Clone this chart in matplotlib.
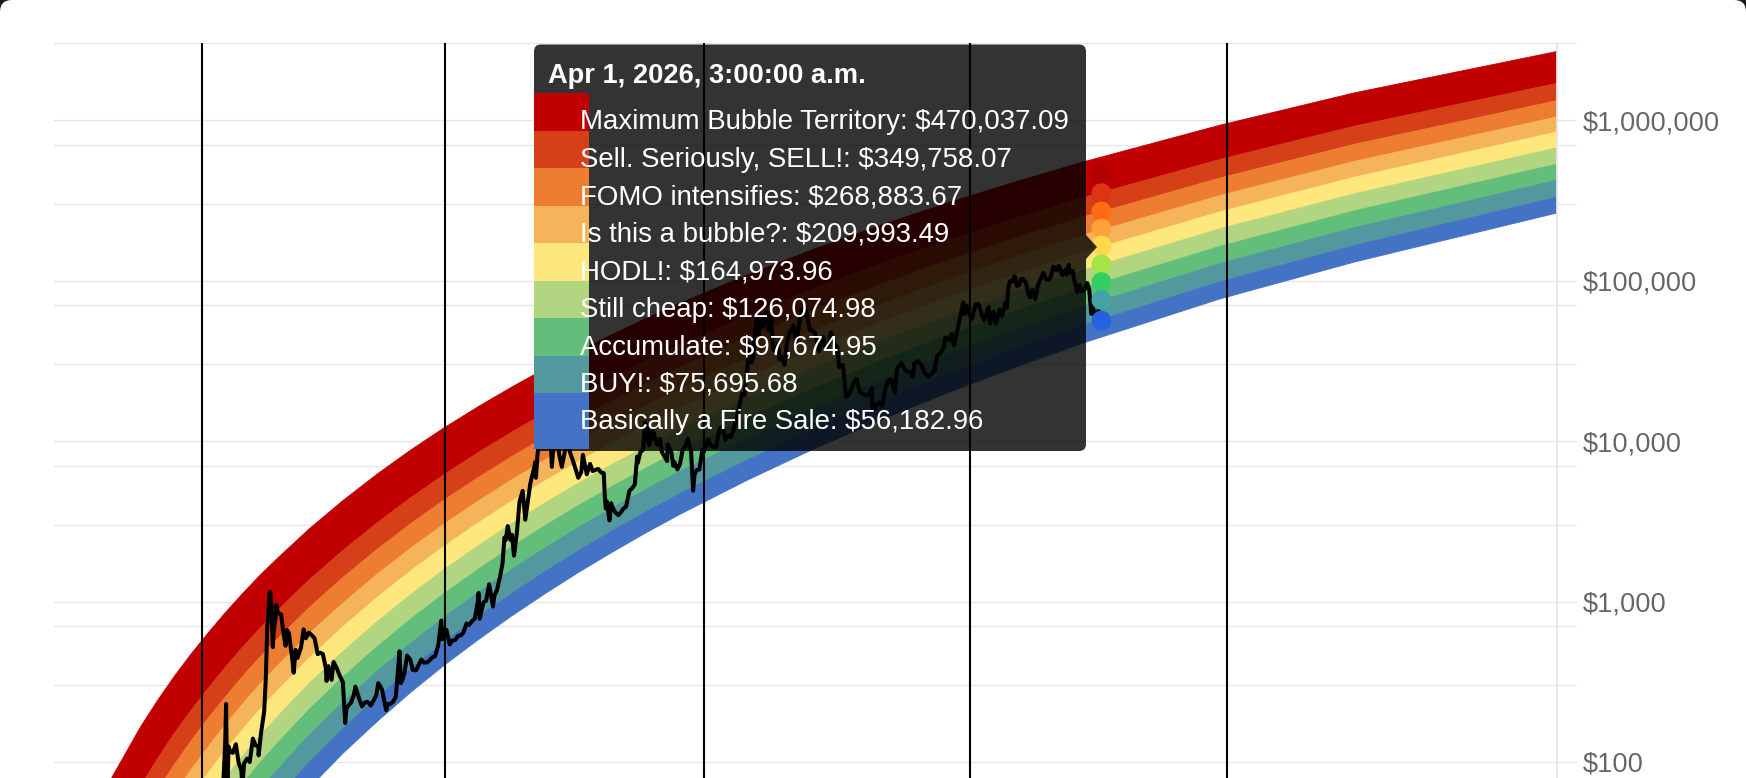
import matplotlib
matplotlib.use("Agg")
import matplotlib.pyplot as plt
import matplotlib.ticker as ticker
from matplotlib.patches import FancyBboxPatch, Rectangle, Polygon
from matplotlib.transforms import IdentityTransform
import pandas as pd

plt.rcParams["font.family"] = ["Liberation Sans", "DejaVu Sans"]

# ---- rainbow bands at sample dates (USD) ----
band_dates = ["2010-09-01", "2011-01-01", "2011-07-02", "2012-01-01", "2012-04-01",
              "2012-07-01", "2012-10-01", "2013-01-01", "2013-04-02", "2013-07-02",
              "2013-10-01", "2014-01-01", "2014-07-02", "2015-01-01", "2015-07-02",
              "2016-01-01", "2016-07-01", "2017-01-01", "2017-07-02", "2018-01-01",
              "2018-07-02", "2019-01-01", "2019-07-02", "2020-01-01", "2021-01-01",
              "2022-01-01", "2023-01-01", "2024-01-01", "2025-01-01", "2026-01-01",
              "2028-01-01", "2030-01-01", "2033-01-01"]

max_bubble_top = [13.1, 24.5, 70.1, 165, 240, 340, 470, 636, 845, 1104,
                  1424, 1808, 2827, 4246, 6173, 8740, 12050, 16310, 21620, 28260,
                  36390, 46220, 58090, 72230, 108300, 157600, 222600, 307000, 415100, 551300,
                  926800, 1477000, 2673000]
sell_top = [5.02, 9.68, 28.9, 70.4, 104, 150, 210, 287, 386, 511,
            665, 854, 1360, 2078, 3066, 4405, 6159, 8440, 11320, 14960,
            19470, 24980, 31690, 39770, 60680, 89660, 128500, 179700, 246000, 330500,
            567300, 915800, 1692000]
fomo_top = [2.99, 5.84, 17.8, 44.4, 66.2, 95.8, 135, 187, 252, 336,
            440, 568, 914, 1409, 2097, 3036, 4277, 5900, 7969, 10590,
            13870, 17880, 22820, 28750, 44290, 65960, 95330, 134300, 185100, 250300,
            434500, 706300, 1321000]
bubble_top = [1.83, 3.62, 11.3, 28.7, 43.2, 62.9, 89.4, 124, 169, 226,
              298, 386, 628, 976, 1466, 2136, 3030, 4207, 5718, 7643,
              10060, 13050, 16720, 21180, 32900, 49410, 71910, 102000, 141600, 192600,
              337900, 552600, 1045000]
hodl_top = [1.16, 2.33, 7.43, 19.2, 29.0, 42.6, 60.9, 85.2, 117, 157,
            208, 270, 443, 695, 1052, 1543, 2204, 3077, 4206, 5653,
            7478, 9741, 12550, 15950, 24990, 37810, 55410, 79120, 110400, 151100,
            267600, 440500, 842000]
cheap_top = [0.721, 1.47, 4.78, 12.5, 19.2, 28.3, 40.8, 57.4, 79.0, 107,
             142, 186, 308, 487, 742, 1098, 1578, 2217, 3049, 4120,
             5479, 7173, 9281, 11860, 18730, 28550, 42150, 60600, 85080, 117100,
             209700, 347200, 671000]
accumulate_top = [0.442, 0.910, 3.03, 8.11, 12.5, 18.6, 27.0, 38.2, 52.9, 71.9,
                  96.3, 127, 212, 338, 519, 773, 1118, 1581, 2189, 2973,
                  3976, 5231, 6803, 8734, 13920, 21390, 31800, 46050, 65060, 90110,
                  163000, 271800, 531000]
buy_top = [0.273, 0.570, 1.94, 5.29, 8.21, 12.3, 18.0, 25.6, 35.7, 48.8,
           65.7, 86.8, 147, 236, 365, 547, 798, 1136, 1581, 2160,
           2904, 3841, 5018, 6471, 10400, 16110, 24130, 35180, 50000, 69710,
           127400, 213700, 422000]
fire_sale_top = [0.164, 0.346, 1.21, 3.35, 5.25, 7.93, 11.7, 16.7, 23.5, 32.3,
                 43.7, 58.1, 99.0, 161, 251, 379, 557, 798, 1118, 1537,
                 2077, 2763, 3628, 4701, 7622, 11910, 17970, 26410, 37780, 53010,
                 97920, 165400, 330500]
fire_sale_bottom = [0.102, 0.218, 0.778, 2.19, 3.46, 5.27, 7.81, 11.3, 15.9, 22.0,
                    29.9, 40.0, 68.8, 113, 177, 270, 399, 575, 810, 1120,
                    1522, 2034, 2684, 3494, 5713, 8994, 13680, 20220, 29120, 41100,
                    76680, 130400, 263400]

band_labels = ["Maximum Bubble Territory", "Sell. Seriously, SELL!", "FOMO intensifies",
               "Is this a bubble?", "HODL!", "Still cheap", "Accumulate", "BUY!",
               "Basically a Fire Sale"]
band_colors = ["#c00000", "#d64018", "#ed7d31", "#f6b45a", "#fee77c",
               "#b1d580", "#63be7b", "#54989f", "#4472c4"]
dot_colors = ["#b30000", "#dc3510", "#ff6a12", "#ffa23c", "#ffd84c",
              "#a6e24a", "#34cf62", "#45a3a8", "#2563de"]

# ---- tooltip at the hover date ----
hover_date = "2026-04-01"
hover_title = "Apr 1, 2026, 3:00:00 a.m."
hover_values = [470037.09, 349758.07, 268883.67, 209993.49, 164973.96,
                126074.98, 97674.95, 75695.68, 56182.96]

halving_dates = ["2012-11-28", "2016-07-09", "2020-05-11", "2024-04-20", "2028-02-10"]

y_major = [100, 1_000, 10_000, 100_000, 1_000_000]
y_minor = [300, 700, 3_000, 7_000, 30_000, 70_000, 300_000, 700_000, 3_000_000]

# ---- BTC price (USD) ----
btc_price = [
    ("2012-12-01", 12.5), ("2013-01-01", 13.5), ("2013-01-15", 14.2), ("2013-02-01", 20.4),
    ("2013-02-15", 27), ("2013-03-01", 34.5), ("2013-03-15", 47), ("2013-03-28", 88),
    ("2013-04-04", 132), ("2013-04-09", 230), ("2013-04-12", 120), ("2013-04-16", 68),
    ("2013-04-22", 125), ("2013-05-01", 116), ("2013-05-15", 114), ("2013-06-01", 129),
    ("2013-06-15", 100), ("2013-07-01", 88), ("2013-07-06", 68), ("2013-07-15", 98),
    ("2013-08-01", 105), ("2013-08-15", 100), ("2013-09-01", 140), ("2013-09-15", 127),
    ("2013-10-01", 125), ("2013-10-02", 110), ("2013-10-15", 151), ("2013-11-01", 206),
    ("2013-11-10", 330), ("2013-11-18", 700), ("2013-11-22", 770), ("2013-11-30", 1130),
    ("2013-12-04", 1150), ("2013-12-10", 990), ("2013-12-18", 520), ("2013-12-23", 660),
    ("2014-01-01", 770), ("2014-01-06", 950), ("2014-01-15", 850), ("2014-02-01", 830),
    ("2014-02-10", 680), ("2014-02-25", 530), ("2014-03-05", 665), ("2014-03-15", 635),
    ("2014-04-01", 450), ("2014-04-10", 360), ("2014-04-20", 500), ("2014-05-01", 445),
    ("2014-05-20", 520), ("2014-06-03", 670), ("2014-06-15", 590), ("2014-07-01", 640),
    ("2014-07-15", 620), ("2014-08-01", 590), ("2014-08-18", 470), ("2014-09-01", 480),
    ("2014-09-15", 470), ("2014-10-01", 385), ("2014-10-05", 320), ("2014-10-15", 395),
    ("2014-11-01", 325), ("2014-11-12", 420), ("2014-12-01", 380), ("2014-12-15", 345),
    ("2015-01-01", 315), ("2015-01-14", 175), ("2015-01-20", 215), ("2015-02-01", 225),
    ("2015-02-15", 235), ("2015-03-01", 260), ("2015-03-10", 295), ("2015-04-01", 245),
    ("2015-04-15", 222), ("2015-05-01", 235), ("2015-05-15", 237), ("2015-06-01", 225),
    ("2015-06-15", 240), ("2015-07-01", 260), ("2015-07-12", 310), ("2015-08-01", 283),
    ("2015-08-24", 210), ("2015-09-01", 230), ("2015-09-15", 230), ("2015-10-01", 238),
    ("2015-10-15", 255), ("2015-11-04", 490), ("2015-11-11", 310), ("2015-11-20", 325),
    ("2015-12-01", 360), ("2015-12-15", 460), ("2016-01-01", 435), ("2016-01-15", 375),
    ("2016-02-01", 372), ("2016-02-15", 400), ("2016-03-01", 435), ("2016-03-15", 416),
    ("2016-04-01", 417), ("2016-04-15", 430), ("2016-05-01", 450), ("2016-05-15", 456),
    ("2016-06-01", 535), ("2016-06-17", 760), ("2016-06-23", 580), ("2016-07-01", 675),
    ("2016-07-15", 665), ("2016-08-02", 540), ("2016-08-15", 570), ("2016-09-01", 575),
    ("2016-09-15", 610), ("2016-10-01", 615), ("2016-10-15", 640), ("2016-11-01", 730),
    ("2016-11-15", 715), ("2016-12-01", 755), ("2016-12-15", 780), ("2017-01-01", 1000),
    ("2017-01-05", 1130), ("2017-01-11", 780), ("2017-02-01", 990), ("2017-02-15", 1010),
    ("2017-03-03", 1280), ("2017-03-24", 930), ("2017-04-01", 1090), ("2017-04-15", 1180),
    ("2017-05-01", 1420), ("2017-05-15", 1730), ("2017-05-25", 2500), ("2017-06-01", 2410),
    ("2017-06-12", 2950), ("2017-06-27", 2420), ("2017-07-05", 2600), ("2017-07-16", 1930),
    ("2017-08-01", 2720), ("2017-08-15", 4200), ("2017-09-01", 4890), ("2017-09-15", 3230),
    ("2017-10-01", 4400), ("2017-10-12", 5400), ("2017-10-21", 6000), ("2017-11-01", 6700),
    ("2017-11-08", 7400), ("2017-11-12", 5900), ("2017-11-20", 8200), ("2017-11-29", 9900),
    ("2017-12-07", 16000), ("2017-12-12", 17300), ("2017-12-17", 19500), ("2017-12-22", 13800),
    ("2017-12-28", 14400), ("2018-01-06", 17200), ("2018-01-16", 11300), ("2018-01-20", 12800),
    ("2018-02-01", 9200), ("2018-02-06", 6900), ("2018-02-20", 11200), ("2018-03-05", 11500),
    ("2018-03-18", 8200), ("2018-04-01", 6900), ("2018-04-25", 9600), ("2018-05-05", 9800),
    ("2018-05-15", 8500), ("2018-06-01", 7500), ("2018-06-29", 5900), ("2018-07-15", 6400),
    ("2018-07-24", 8200), ("2018-08-14", 6200), ("2018-09-01", 7200), ("2018-09-15", 6500),
    ("2018-10-01", 6600), ("2018-10-15", 6700), ("2018-11-01", 6350), ("2018-11-14", 6300),
    ("2018-11-20", 4500), ("2018-11-25", 3800), ("2018-12-01", 4200), ("2018-12-15", 3200),
    ("2018-12-24", 4100), ("2019-01-01", 3850), ("2019-01-15", 3600), ("2019-02-01", 3450),
    ("2019-02-15", 3600), ("2019-03-01", 3800), ("2019-03-15", 3900), ("2019-04-02", 4900),
    ("2019-04-15", 5050), ("2019-05-01", 5350), ("2019-05-14", 8000), ("2019-05-17", 7300),
    ("2019-06-01", 8550), ("2019-06-15", 8800), ("2019-06-26", 13000), ("2019-07-02", 10000),
    ("2019-07-10", 12600), ("2019-07-17", 9400), ("2019-08-01", 10400), ("2019-08-06", 11800),
    ("2019-08-29", 9500), ("2019-09-15", 10300), ("2019-09-24", 8600), ("2019-10-01", 8300),
    ("2019-10-23", 7500), ("2019-10-26", 9500), ("2019-11-15", 8600), ("2019-11-25", 7000),
    ("2019-12-01", 7400), ("2019-12-18", 6650), ("2020-01-01", 7200), ("2020-01-15", 8800),
    ("2020-02-01", 9400), ("2020-02-13", 10350), ("2020-03-01", 8550), ("2020-03-12", 4900),
    ("2020-03-20", 6200), ("2020-04-01", 6600), ("2020-04-15", 6650), ("2020-05-01", 8800),
    ("2020-05-10", 8600), ("2020-06-01", 10200), ("2020-06-15", 9400), ("2020-07-01", 9200),
    ("2020-07-15", 9200), ("2020-08-01", 11800), ("2020-08-17", 12300), ("2020-09-03", 10200),
    ("2020-09-15", 10800), ("2020-10-01", 10600), ("2020-10-15", 11500), ("2020-11-01", 13800),
    ("2020-11-15", 16000), ("2020-12-01", 19700), ("2020-12-15", 19300), ("2021-01-01", 29400),
    ("2021-01-08", 40500), ("2021-01-22", 30800), ("2021-02-01", 33500), ("2021-02-08", 46200),
    ("2021-02-21", 57500), ("2021-02-28", 45200), ("2021-03-13", 61200), ("2021-03-25", 51700),
    ("2021-04-13", 63500), ("2021-04-25", 49000), ("2021-05-08", 58800), ("2021-05-19", 37000),
    ("2021-06-01", 36700), ("2021-06-15", 40200), ("2021-06-22", 32500), ("2021-07-01", 33600),
    ("2021-07-20", 29800), ("2021-08-01", 39900), ("2021-08-15", 47000), ("2021-09-06", 52600),
    ("2021-09-21", 40600), ("2021-10-01", 48100), ("2021-10-20", 66000), ("2021-11-01", 61000),
    ("2021-11-10", 67500), ("2021-11-20", 59700), ("2021-12-04", 49000), ("2021-12-15", 48800),
    ("2022-01-01", 47300), ("2022-01-10", 41800), ("2022-01-24", 36300), ("2022-02-01", 38700),
    ("2022-02-15", 44500), ("2022-02-24", 38300), ("2022-03-15", 39300), ("2022-03-28", 47400),
    ("2022-04-15", 40500), ("2022-05-01", 38500), ("2022-05-12", 28900), ("2022-06-01", 29800),
    ("2022-06-18", 19000), ("2022-07-01", 19300), ("2022-07-15", 20800), ("2022-08-01", 23300),
    ("2022-08-14", 24400), ("2022-09-01", 20100), ("2022-09-15", 19700), ("2022-10-01", 19300),
    ("2022-10-15", 19200), ("2022-11-05", 21300), ("2022-11-09", 15900), ("2022-11-21", 15800),
    ("2022-12-01", 17000), ("2022-12-15", 17400), ("2022-12-31", 16550), ("2023-01-15", 20900),
    ("2023-02-01", 23700), ("2023-02-15", 24300), ("2023-03-10", 20000), ("2023-03-20", 28200),
    ("2023-04-14", 30500), ("2023-05-01", 28000), ("2023-05-15", 27100), ("2023-06-01", 26800),
    ("2023-06-15", 25100), ("2023-06-23", 30500), ("2023-07-13", 31400), ("2023-08-01", 29700),
    ("2023-08-17", 26600), ("2023-09-11", 25200), ("2023-09-25", 26300), ("2023-10-10", 27400),
    ("2023-10-24", 34000), ("2023-11-15", 35600), ("2023-12-01", 38700), ("2023-12-08", 44000),
    ("2023-12-31", 42300), ("2024-01-11", 46500), ("2024-01-23", 39500), ("2024-02-01", 43100),
    ("2024-02-15", 51800), ("2024-02-29", 61200), ("2024-03-14", 73100), ("2024-03-20", 61900),
    ("2024-04-01", 69700), ("2024-04-17", 61300), ("2024-05-01", 57800), ("2024-05-20", 71400),
    ("2024-06-05", 71100), ("2024-06-24", 60300), ("2024-07-05", 56700), ("2024-07-29", 68200),
    ("2024-08-05", 54000), ("2024-08-24", 64100), ("2024-09-06", 53900), ("2024-09-27", 66000),
    ("2024-10-10", 60300), ("2024-10-29", 72700), ("2024-11-05", 67800), ("2024-11-13", 90500),
    ("2024-11-22", 98900), ("2024-12-05", 98800), ("2024-12-17", 106100), ("2024-12-30", 92300),
    ("2025-01-13", 94500), ("2025-01-20", 102000), ("2025-01-31", 102400), ("2025-02-15", 97500),
    ("2025-02-28", 84300), ("2025-03-10", 78500), ("2025-03-25", 87500), ("2025-04-08", 76300),
    ("2025-04-22", 93500), ("2025-05-08", 103000), ("2025-05-22", 111600), ("2025-06-05", 101500),
    ("2025-06-22", 101000), ("2025-07-01", 106000), ("2025-07-14", 122000), ("2025-07-31", 115700),
    ("2025-08-14", 123300), ("2025-09-01", 108200), ("2025-09-18", 117000), ("2025-09-26", 109000),
    ("2025-10-06", 125000), ("2025-10-10", 112000), ("2025-10-27", 115000), ("2025-11-04", 101500),
    ("2025-11-21", 84500), ("2025-12-03", 93500), ("2025-12-18", 85500), ("2026-01-01", 88000),
    ("2026-01-14", 96500), ("2026-01-25", 88000), ("2026-02-05", 62000), ("2026-02-14", 69500),
    ("2026-02-24", 60000), ("2026-03-08", 57500), ("2026-03-20", 70000), ("2026-04-01", 68000),
]

W_PX, H_PX = 1746, 778


def flip(y):
    # screenshot rows are counted from the top, display coords from the bottom
    return H_PX - y


def draw_tooltip(fig):
    pix = IdentityTransform()
    left, right, top, bottom = 534, 1086, 44.5, 451
    fig.add_artist(FancyBboxPatch((left, flip(bottom)), right - left, bottom - top,
                                  boxstyle="round,pad=0,rounding_size=7", transform=pix,
                                  facecolor=(0, 0, 0, 0.8), edgecolor="none", zorder=20))
    fig.add_artist(Polygon([(right, flip(235)), (right + 11, flip(247)), (right, flip(259))],
                           closed=True, transform=pix, facecolor=(0, 0, 0, 0.8),
                           edgecolor="none", zorder=20))

    fig.text(548, flip(82.7), hover_title, transform=pix, color="white",
             fontsize=19.6, fontweight="bold", va="baseline", zorder=22)

    row_h = 37.5
    for i, (label, value, color) in enumerate(zip(band_labels, hover_values, band_colors)):
        y0 = 93.3 + row_h * i
        y1 = y0 + row_h if i < len(band_labels) - 1 else 449
        fig.add_artist(Rectangle((left, flip(y1)), 55, y1 - y0, transform=pix,
                                 facecolor=color, edgecolor="none", zorder=21))
        fig.text(580, flip(129.3 + row_h * i), f"{label}: ${value:,.2f}", transform=pix,
                 color="white", fontsize=19.9, va="baseline", zorder=22)


def plot_rainbow():
    fig = plt.figure(figsize=(W_PX / 100, H_PX / 100), dpi=100)
    fig.patch.set_facecolor("#1a1a1a")
    fig.add_artist(FancyBboxPatch((0, -40), W_PX, H_PX + 40,
                                  boxstyle="round,pad=0,rounding_size=12",
                                  transform=IdentityTransform(), facecolor="white",
                                  edgecolor="none", zorder=-10))

    top_px, axis_left, axis_right = 42.5, 54, 1557
    ax = fig.add_axes([axis_left / W_PX, 0, (axis_right - axis_left) / W_PX,
                       (H_PX - top_px) / H_PX])
    ax.patch.set_alpha(0)
    ax.set_yscale("log")

    dates = pd.to_datetime(band_dates)
    edges = [max_bubble_top, sell_top, fomo_top, bubble_top, hodl_top, cheap_top,
             accumulate_top, buy_top, fire_sale_top, fire_sale_bottom]
    for i, color in enumerate(band_colors):
        ax.fill_between(dates, edges[i + 1], edges[i], facecolor=color,
                        edgecolor=color, linewidth=0.6, zorder=2)

    for d in halving_dates:
        ax.axvline(pd.Timestamp(d), color="black", linewidth=1.5, zorder=4)

    px_dates = pd.to_datetime([d for d, _ in btc_price])
    px_vals = [v for _, v in btc_price]
    ax.plot(px_dates, px_vals, color="black", linewidth=2.9, zorder=5)

    ax.scatter([pd.Timestamp(hover_date)] * len(hover_values), hover_values,
               s=205, c=dot_colors, edgecolors="none", zorder=6)

    # 160.5 px per decade, $1,000,000 sits 120 px from the top
    ax.set_ylim(10 ** (6 - (H_PX - 120) / 160.5), 10 ** (6 + (120 - top_px) / 160.5))
    ax.set_xlim(pd.Timestamp("2010-09-20"), pd.Timestamp("2033-01-01"))

    ax.yaxis.set_major_locator(ticker.FixedLocator(y_major))
    ax.yaxis.set_minor_locator(ticker.FixedLocator(y_minor))
    ax.yaxis.set_major_formatter(ticker.FuncFormatter(lambda v, _: f"${v:,.0f}"))
    ax.yaxis.set_minor_formatter(ticker.NullFormatter())
    ax.yaxis.tick_right()
    ax.tick_params(axis="y", which="both", length=13.7, width=1.0, color="#e6e6e6",
                   pad=5, labelsize=19.6, labelcolor="#666666")
    ax.tick_params(axis="x", bottom=False, labelbottom=False)
    ax.grid(True, which="both", axis="y", color="#e6e6e6", linewidth=1.0)
    ax.set_axisbelow(True)

    for side in ["top", "left", "bottom"]:
        ax.spines[side].set_visible(False)
    ax.spines["right"].set_color("#e6e6e6")
    ax.spines["right"].set_linewidth(1.3)

    draw_tooltip(fig)

    fig.savefig("out.png", dpi=100)
    plt.close(fig)


if __name__ == "__main__":
    plot_rainbow()
